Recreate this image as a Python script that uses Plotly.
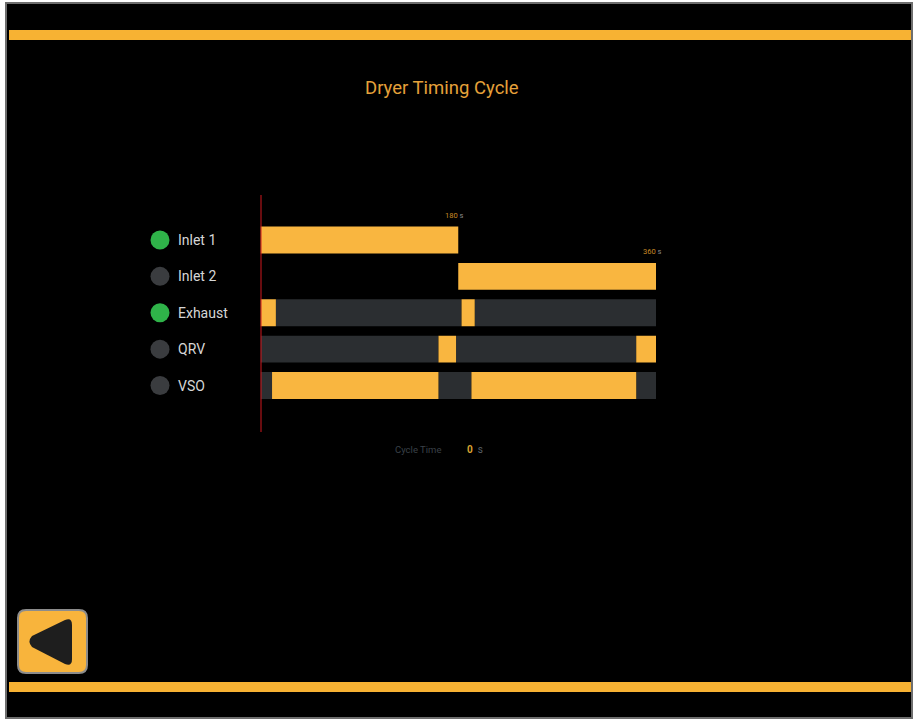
import plotly.graph_objects as go

# ---------------- data ----------------
rows = ["Inlet 1", "Inlet 2", "Exhaust", "QRV", "VSO"]
indicator_on = [True, False, True, False, False]

# segments per row: (start s, end s, active?)
segments = {
    "Inlet 1": [(0, 180, True)],
    "Inlet 2": [(180, 360, True)],
    "Exhaust": [(0, 14, True), (14, 183, False), (183, 195, True), (195, 360, False)],
    "QRV":     [(0, 162, False), (162, 178, True), (178, 342, False), (342, 360, True)],
    "VSO":     [(0, 10.5, False), (10.5, 162, True), (162, 192, False), (192, 342, True), (342, 360, False)],
}
marks = [("Inlet 1", 180), ("Inlet 2", 360)]
cycle_time = 0
title = "Dryer Timing Cycle"

# ---------------- styling ----------------
W, H = 917, 720
YEL = "#F9B640"
DARK = "#2B2E31"
BAND = "#F7B233"
GREEN = "#2FB349"
GREYDOT = "#3A3C3F"
FONT = "Roboto"

def px(x):
    return x / W

def py(y):
    return 1 - y / H

fig = go.Figure()

# bars
for active, color in [(False, DARK), (True, YEL)]:
    ys, bases, lens = [], [], []
    for r in rows:
        for s, e, a in segments[r]:
            if a == active:
                ys.append(r)
                bases.append(s)
                lens.append(e - s)
    fig.add_trace(go.Bar(
        y=ys, x=lens, base=bases, orientation="h",
        marker=dict(color=color, line=dict(width=0)),
        width=0.74, showlegend=False, hoverinfo="skip",
        xaxis="x", yaxis="y",
    ))

# indicator lamps
fig.add_trace(go.Scatter(
    x=[160] * len(rows), y=rows, mode="markers",
    marker=dict(size=19, color=[GREEN if o else GREYDOT for o in indicator_on],
                line=dict(width=0)),
    xaxis="x2", yaxis="y", showlegend=False, hoverinfo="skip",
))

annotations = []
for r in rows:
    annotations.append(dict(
        x=176, y=r, xref="x2", yref="y", text=r, showarrow=False,
        xanchor="left", yanchor="middle", yshift=0,
        font=dict(family=FONT, size=14, color="#D6D6D6"),
    ))

for r, t in marks:
    annotations.append(dict(
        x=t, y=r, xref="x", yref="y",
        text=f"<span style='color:#C98A25'>{t}</span> <span style='color:#8A8A8A'>s</span>",
        showarrow=False, xanchor="center", yanchor="bottom", yshift=18, xshift=-4,
        font=dict(family=FONT, size=7.5),
    ))

annotations.append(dict(
    x=px(442), y=py(88), xref="paper", yref="paper", text=title, showarrow=False,
    xanchor="center", yanchor="middle",
    font=dict(family=FONT, size=18.5, color="#E5A13A"),
))
annotations.append(dict(
    x=px(443), y=py(449), xref="paper", yref="paper", text="Cycle Time", showarrow=False,
    xanchor="right", yanchor="middle",
    font=dict(family=FONT, size=9.5, color="#3A4048"),
))
annotations.append(dict(
    x=px(465), y=py(449), xref="paper", yref="paper",
    text=f"<b><span style='color:#D9A331'>{cycle_time}</span></b>  <span style='color:#5A6068'>s</span>",
    showarrow=False, xanchor="left", yanchor="middle",
    font=dict(family=FONT, size=10),
))

shapes = [
    # screen background
    dict(type="rect", xref="paper", yref="paper", x0=px(6), x1=px(912), y0=py(3), y1=py(718),
         fillcolor="#000000", line=dict(color="#6E6E6E", width=2), layer="below"),
    # top & bottom bands
    dict(type="rect", xref="paper", yref="paper", x0=px(9), x1=px(911), y0=py(30), y1=py(40),
         fillcolor=BAND, line=dict(width=0), layer="below"),
    dict(type="rect", xref="paper", yref="paper", x0=px(9), x1=px(911), y0=py(682), y1=py(692),
         fillcolor=BAND, line=dict(width=0), layer="below"),
    # cursor line at 0 s
    dict(type="line", xref="x", yref="paper", x0=0, x1=0, y0=py(195), y1=py(432),
         line=dict(color="#D0181E", width=2), layer="above"),
]

# back button (pixel coordinates on x2/y3)
def rounded_rect(x0, y0, x1, y1, r):
    return (f"M {x0+r},{y0} L {x1-r},{y0} Q {x1},{y0} {x1},{y0+r} "
            f"L {x1},{y1-r} Q {x1},{y1} {x1-r},{y1} L {x0+r},{y1} "
            f"Q {x0},{y1} {x0},{y1-r} L {x0},{y0+r} Q {x0},{y0} {x0+r},{y0} Z")

shapes.append(dict(type="path", xref="x2", yref="y3", path=rounded_rect(18, 610, 87, 673, 8),
                   fillcolor="#F8B43C", line=dict(color="#8C8C8C", width=2), layer="above"))
shapes.append(dict(type="path", xref="x2", yref="y3",
                   path=("M 32,636 Q 27,641.5 32,647 L 65,664 Q 72,667 72,659 "
                         "L 72,625 Q 72,617 65,620 Z"),
                   fillcolor="#1E1E1E", line=dict(width=0), layer="above"))

fig.update_layout(
    width=W, height=H,
    margin=dict(l=0, r=0, t=0, b=0),
    paper_bgcolor="#FFFFFF",
    plot_bgcolor="rgba(0,0,0,0)",
    barmode="overlay",
    showlegend=False,
    xaxis=dict(domain=[px(260.5), px(656)], range=[0, 360], visible=False, fixedrange=True),
    xaxis2=dict(domain=[0, 1], range=[0, W], visible=False, anchor="free", position=0),
    yaxis=dict(domain=[1 - 403.7 / H, 1 - 221.8 / H], type="category",
               categoryorder="array", categoryarray=rows, range=[4.5, -0.5],
               visible=False),
    yaxis3=dict(domain=[0, 1], range=[H, 0], visible=False, anchor="free", position=0),
)
fig.update_layout(annotations=annotations, shapes=shapes)

fig.write_html(
    "out.html",
    config={"displayModeBar": False},
    post_script="document.body.style.margin='0';document.body.style.padding='0';document.body.style.overflow='hidden';",
)
